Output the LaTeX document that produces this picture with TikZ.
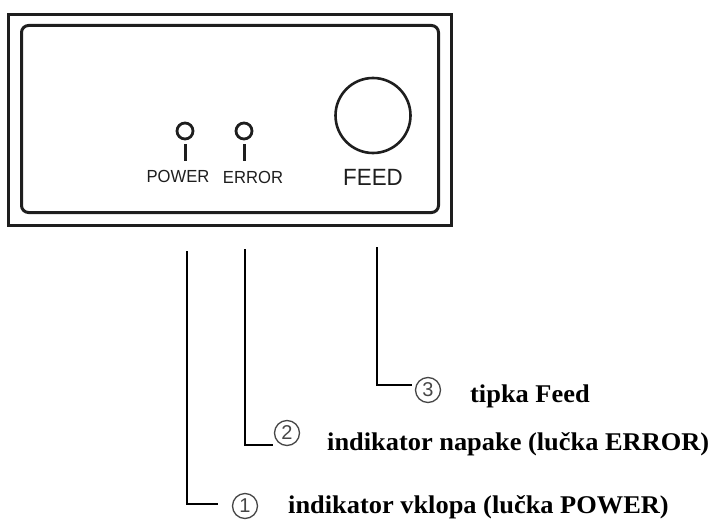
\documentclass[tikz,border=0pt]{standalone}
\usepackage{fontspec}
\setmainfont{Liberation Serif}
\newfontfamily\panelfont[FakeStretch=0.95]{Liberation Sans}
\newfontfamily\numfont{Liberation Sans}
\newfontfamily\calloutfont[FakeStretch=1.035]{Liberation Serif}
\definecolor{panelgray}{RGB}{30,30,30}
\definecolor{numgray}{RGB}{70,70,70}

\begin{document}
\begin{tikzpicture}[x=1pt, y=-1pt,
    panel/.style={draw=panelgray, line width=3pt, inner sep=0pt},
    led/.style={draw=panelgray, circle, line width=2.8pt, minimum size=16pt, inner sep=0pt},
    ledstem/.style={draw=panelgray, line width=3pt},
    paneltext/.style={font=\panelfont\fontsize{17.5}{20}\selectfont, text=panelgray, inner sep=0pt},
    leader/.style={draw=black, line width=2.8pt},
    callout/.style={font=\calloutfont\bfseries\fontsize{25.5}{28}\selectfont, anchor=base west, inner sep=0pt},
    num/.style={draw=numgray, circle, line width=1.3pt, minimum size=25pt, inner sep=0pt,
        font=\numfont\fontsize{20}{22}\selectfont, text=numgray}]
    \useasboundingbox (0,0) rectangle (714,527);

    % Panel
    \node[panel, minimum width=443pt, minimum height=210.5pt] (frame) at (230,119.75) {};
    \node[panel, rounded corners=7pt, minimum width=417pt, minimum height=187pt] (bezel) at (230,119) {};

    % Indicators
    \node[led] (ledpower) at (185,131) {};
    \node[led] (lederror) at (244,131) {};
    \draw[ledstem] (ledpower.south) ++(0,4) -- ++(0,17);
    \draw[ledstem] (lederror.south) ++(0,4) -- ++(0,17);
    \node[paneltext] (power) at (178,176) {POWER};
    \node[paneltext] (error) at (253,177) {ERROR};

    % Feed button
    \node[draw=panelgray, circle, line width=2.6pt, minimum size=75pt, inner sep=0pt] (feedbtn) at (373,115.5) {};
    \node[paneltext, font=\panelfont\fontsize{23.5}{26}\selectfont] (feed) at (373,177) {FEED};

    % Numbers
    \node[num] (n1) at (245,506) {1};
    \node[num] (n2) at (287,433) {2};
    \node[num] (n3) at (428,390) {3};

    % Leaders
    \coordinate (top1) at (187,251);
    \coordinate (top2) at (245,249);
    \coordinate (top3) at (377,247);
    \coordinate (end1) at (218,504);
    \coordinate (end2) at (273,445);
    \coordinate (end3) at (412,385);
    \draw[leader] (top1) |- (end1);
    \draw[leader] (top2) |- (end2);
    \draw[leader] (top3) |- (end3);

    % Callouts
    \node[callout] (lbl1) at (288,513) {indikator vklopa (lučka POWER)};
    \node[callout] (lbl2) at (327,450) {indikator napake (lučka ERROR)};
    \node[callout] (lbl3) at (470,402) {tipka Feed};
\end{tikzpicture}
\end{document}
